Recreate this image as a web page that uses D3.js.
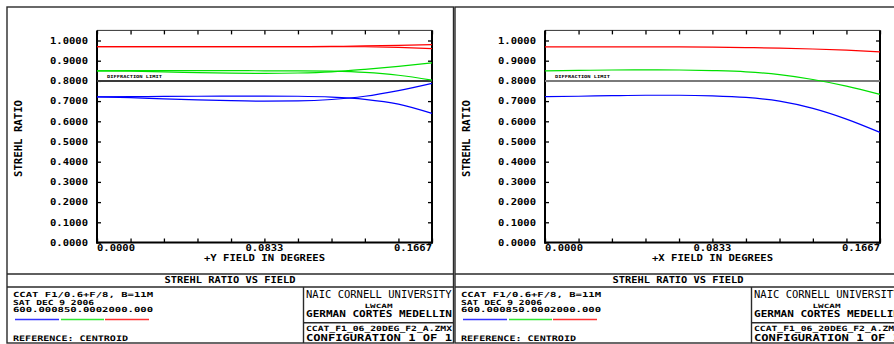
<!DOCTYPE html>
<html>
<head>
<meta charset="utf-8">
<script src="https://cdn.jsdelivr.net/npm/d3@7/dist/d3.min.js"></script>
<style>
  html, body { margin: 0; padding: 0; background: #fff; }
  svg { display: block; }
  text { font-family: "DejaVu Sans Mono", "Liberation Mono", monospace; fill: #000; }
</style>
</head>
<body>
<svg id="chart" width="894" height="344"></svg>
<script>
// Field positions (degrees) at which Strehl ratio was evaluated
const field = [0.0000, 0.0167, 0.0333, 0.0500, 0.0667, 0.0833, 0.1000, 0.1167, 0.1333, 0.1500, 0.1667];

// +Y field: tangential / sagittal per wavelength
const yRedT   = [0.970, 0.970, 0.970, 0.970, 0.970, 0.970, 0.970, 0.970, 0.969, 0.966, 0.960];
const yRedS   = [0.970, 0.970, 0.970, 0.970, 0.970, 0.970, 0.970, 0.971, 0.973, 0.976, 0.980];
const yGreenT = [0.850, 0.851, 0.851, 0.851, 0.851, 0.850, 0.850, 0.848, 0.842, 0.828, 0.804];
const yGreenS = [0.850, 0.848, 0.845, 0.841, 0.838, 0.837, 0.839, 0.845, 0.857, 0.872, 0.889];
const yBlueT  = [0.721, 0.722, 0.723, 0.724, 0.725, 0.725, 0.724, 0.720, 0.709, 0.685, 0.639];
const yBlueS  = [0.721, 0.717, 0.711, 0.706, 0.702, 0.700, 0.701, 0.708, 0.724, 0.752, 0.788];

// +X field
const xRed   = [0.968, 0.968, 0.968, 0.968, 0.968, 0.967, 0.965, 0.962, 0.958, 0.952, 0.944];
const xGreen = [0.850, 0.852, 0.854, 0.855, 0.854, 0.851, 0.845, 0.831, 0.807, 0.774, 0.733];
const xBlue  = [0.722, 0.724, 0.727, 0.729, 0.729, 0.726, 0.718, 0.700, 0.664, 0.611, 0.545];

const diffractionLimit = 0.8;
const yTickValues = [0, 0.1, 0.2, 0.3, 0.4, 0.5, 0.6, 0.7, 0.8, 0.9, 1.0];
const xLabelValues = [0.0000, 0.0833, 0.1667];
const xLabelText = ["0.0000", "0.0833", "0.1667"];
const wavelengths = ["600.000", "850.000", "2000.000"];
const wlColors = ["#0000ff", "#00e000", "#ff0000"];

const svg = d3.select("#chart");

function label(g, x, y, s, o = {}) {
  const t = g.append("text")
    .attr("x", x).attr("y", y)
    .attr("font-size", o.size || 8.5)
    .attr("font-weight", o.weight || "bold")
    .attr("text-anchor", o.anchor || "start")
    .text(s);
  if (o.len) t.attr("textLength", o.len).attr("lengthAdjust", "spacingAndGlyphs");
  if (o.transform) t.attr("transform", o.transform);
  return t;
}

function drawPanel(dx, series, axisTitle) {
  const g = svg.append("g").attr("transform", `translate(${dx},0)`);
  const x = d3.scaleLinear().domain([0, 0.1667]).range([97, 432]);
  const y = d3.scaleLinear().domain([0, 1.05]).range([242.5, 30.4]);

  // outer frame and title-block rules
  const ink = "#2a2a2a";
  g.append("rect").attr("x", 7).attr("y", 7).attr("width", 446.5).attr("height", 336)
    .attr("fill", "none").attr("stroke", ink).attr("stroke-width", 1.4);
  g.append("line").attr("x1", 7).attr("x2", 453.5).attr("y1", 274).attr("y2", 274).attr("stroke", ink).attr("stroke-width", 1.4);
  g.append("line").attr("x1", 7).attr("x2", 453.5).attr("y1", 287).attr("y2", 287).attr("stroke", ink).attr("stroke-width", 1.4);
  g.append("line").attr("x1", 303.5).attr("x2", 303.5).attr("y1", 287).attr("y2", 343).attr("stroke", ink).attr("stroke-width", 1.4);
  g.append("line").attr("x1", 303.5).attr("x2", 453.5).attr("y1", 322.7).attr("y2", 322.7).attr("stroke", ink).attr("stroke-width", 1.4);

  // plot frame: top rule and inward ticks
  g.append("line").attr("x1", 97).attr("x2", 432).attr("y1", 30.4).attr("y2", 30.4).attr("stroke", "#333").attr("stroke-width", 1);
  const xTicks = field;
  g.append("g").attr("transform", "translate(0,30.4)")
    .call(d3.axisTop(x).tickValues(xTicks).tickSize(-4).tickFormat(""))
    .call(a => a.select(".domain").remove())
    .selectAll("line").attr("stroke", "#000").attr("stroke-width", 1.3);
  g.append("g").attr("transform", "translate(432,0)")
    .call(d3.axisRight(y).tickValues(yTickValues).tickSize(-4).tickFormat(""))
    .call(a => a.select(".domain").remove())
    .selectAll("line").attr("stroke", "#000").attr("stroke-width", 1.3);
  g.append("line").attr("x1", 432).attr("x2", 432).attr("y1", 30.4).attr("y2", 243.5).attr("stroke", "#000").attr("stroke-width", 2);

  // left axis with labels
  const ya = g.append("g").attr("transform", "translate(97,0)")
    .call(d3.axisLeft(y).tickValues(yTickValues).tickSize(-4).tickPadding(9).tickFormat(d3.format(".4f")));
  ya.select(".domain").remove();
  ya.selectAll("line").attr("stroke", "#000").attr("stroke-width", 1.3);
  ya.selectAll("text").attr("font-family", "DejaVu Sans Mono").attr("font-size", 8.5).attr("font-weight", "bold")
    .attr("dy", "0.33em").attr("textLength", 38).attr("lengthAdjust", "spacingAndGlyphs");
  g.append("line").attr("x1", 97).attr("x2", 97).attr("y1", 30.4).attr("y2", 243.5).attr("stroke", "#000").attr("stroke-width", 2);

  // bottom axis with labels at start, middle and end
  const xa = g.append("g").attr("transform", "translate(0,242.5)")
    .call(d3.axisBottom(x).tickValues(xTicks).tickSize(-4).tickFormat(""));
  xa.select(".domain").remove();
  xa.selectAll("line").attr("stroke", "#000").attr("stroke-width", 1.3);
  g.append("line").attr("x1", 96).attr("x2", 433).attr("y1", 242.5).attr("y2", 242.5).attr("stroke", "#000").attr("stroke-width", 2);
  const anchors = ["start", "middle", "end"];
  xLabelValues.forEach((v, i) => label(g, x(v), 251, xLabelText[i], { anchor: anchors[i], len: 38 }));

  // axis titles
  label(g, (x(0) + x(0.1667)) / 2, 260.7, axisTitle, { anchor: "middle", len: 121, size: 9 });
  label(g, 0, 0, "STREHL RATIO", { anchor: "middle", len: 77, size: 10, transform: "translate(21.5,138.5) rotate(-90)" });

  // diffraction limit
  g.append("line").attr("x1", 97).attr("x2", 432)
    .attr("y1", y(diffractionLimit)).attr("y2", y(diffractionLimit))
    .attr("stroke", dx === 0 ? "#3a3a3a" : "#7a7a7a").attr("stroke-width", 2);
  label(g, 107, y(diffractionLimit) - 3, "DIFFRACTION LIMIT", { size: 4.2, len: 55 });

  // Strehl curves
  const line = d3.line().x((d, i) => x(field[i])).y(d => y(d)).curve(d3.curveMonotoneX);
  series.forEach(s => {
    g.append("path").attr("d", line(s.values)).attr("fill", "none")
      .attr("stroke", s.color).attr("stroke-width", 1.2);
  });

  // title strip
  label(g, 230, 282.5, "STREHL RATIO VS FIELD", { anchor: "middle", len: 131, size: 8 });

  // lens info block
  label(g, 13, 297, "CCAT F1/0.6+F/8, B=11M", { len: 140, size: 7 });
  label(g, 13, 304.6, "SAT DEC 9 2006", { len: 81, size: 7 });
  label(g, 13, 312.4, wavelengths.join(""), { len: 140, size: 7 });
  const bars = [[15, 59], [61, 104], [105, 149]];
  bars.forEach((b, i) => g.append("line").attr("x1", b[0]).attr("x2", b[1]).attr("y1", 319.5).attr("y2", 319.5)
    .attr("stroke", wlColors[i]).attr("stroke-width", 1.3).attr("opacity", 0.8));
  label(g, 13, 341, "REFERENCE: CENTROID", { len: 115, size: 7.6 });

  // institution block
  label(g, 306, 298.3, "NAIC CORNELL UNIVERSITY", { len: 145.5, size: 10.5, weight: "normal" });
  label(g, 378.5, 308, "LWCAM", { anchor: "middle", len: 28, size: 5.8 });
  label(g, 306, 317, "GERMAN CORTES MEDELLIN", { len: 146, size: 8 });
  label(g, 306, 331, "CCAT_F1_06_20DEG_F2_A.ZMX", { len: 146, size: 7.2 });
  label(g, 306, 341.2, "CONFIGURATION 1 OF 1", { len: 146, size: 8.6 });
}

drawPanel(0, [
  { values: yRedT, color: "#ff0000" }, { values: yRedS, color: "#ff0000" },
  { values: yGreenT, color: "#00e000" }, { values: yGreenS, color: "#00e000" },
  { values: yBlueT, color: "#0000ff" }, { values: yBlueS, color: "#0000ff" }
], "+Y FIELD IN DEGREES");

drawPanel(448, [
  { values: xRed, color: "#ff0000" },
  { values: xGreen, color: "#00e000" },
  { values: xBlue, color: "#0000ff" }
], "+X FIELD IN DEGREES");
</script>
</body>
</html>
